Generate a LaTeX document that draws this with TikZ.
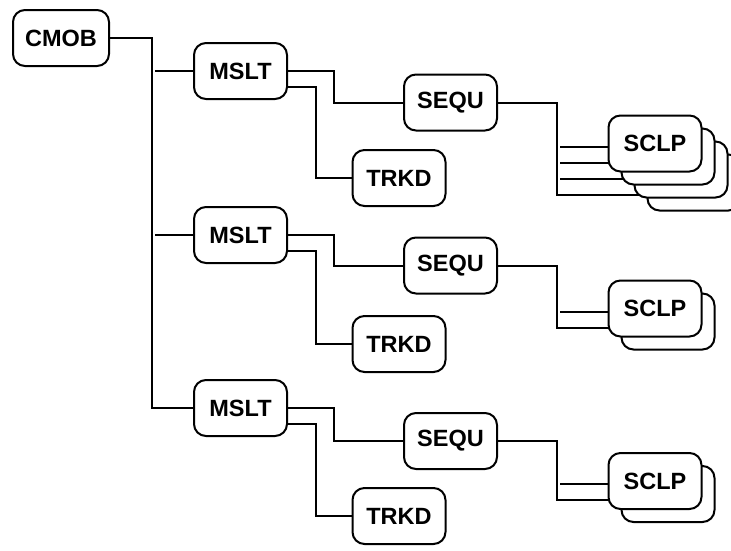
\documentclass[tikz,border=0pt]{standalone}
\usepackage{fontspec}
\setmainfont{Liberation Sans}
\usetikzlibrary{backgrounds}

\begin{document}
\begin{tikzpicture}[x=1pt, y=-1pt,
	box/.style={draw, line width=2pt, fill=white, rounded corners=12pt, minimum width=93pt, minimum height=56pt, inner sep=0pt, font=\bfseries\fontsize{23.5}{28}\selectfont},
	link/.style={line width=2pt}]
	\useasboundingbox (0,0) rectangle (731,550);
	\node[box, minimum width=96pt] (cmob) at (61,38) {CMOB};
	\coordinate (trunk) at (152,38);
	\foreach \i/\m/\s/\t/\c/\n in {1/71/102.5/178/143.5/4, 2/235/265.5/344/308.5/2, 3/408/441/516/481/2} {
		\node[box] (mslt\i) at (240.5,\m) {MSLT};
		\node[box] (sequ\i) at (450.5,\s) {SEQU};
		\node[box] (trkd\i) at (399,\t) {TRKD};
		\foreach \k in {\n,...,1} {\node[box] (sclp\i-\k) at (642+13*\k,\c-13+13*\k) {\ifnum\k=1 SCLP\fi};}
		\coordinate (fork\i) at ([xshift=59pt]sequ\i.east);
		\begin{pgfonlayer}{background}
			\ifnum\i<3 \draw[link] ([xshift=3pt]trunk |- mslt\i.west) -- (mslt\i.west);
			\else \draw[link] (cmob.east) -- (trunk) |- (mslt\i.west); \fi
			\draw[link] (mslt\i.east) -- ++(46,0) |- (sequ\i.west);
			\draw[link] ([yshift=-16pt]mslt\i.east) -- ++(28,0) |- (trkd\i.west);
			\foreach \k in {1,...,\n} {
				\coordinate (in\i-\k) at ([yshift=-3pt*\k]sclp\i-\k.west);
				\ifnum\k<\n\relax \draw[link] ([xshift=3pt]fork\i |- in\i-\k) -- (in\i-\k); \fi}
			\draw[link] (sequ\i.east) -- (fork\i) |- (in\i-\n);
		\end{pgfonlayer}
	}
\end{tikzpicture}
\end{document}
